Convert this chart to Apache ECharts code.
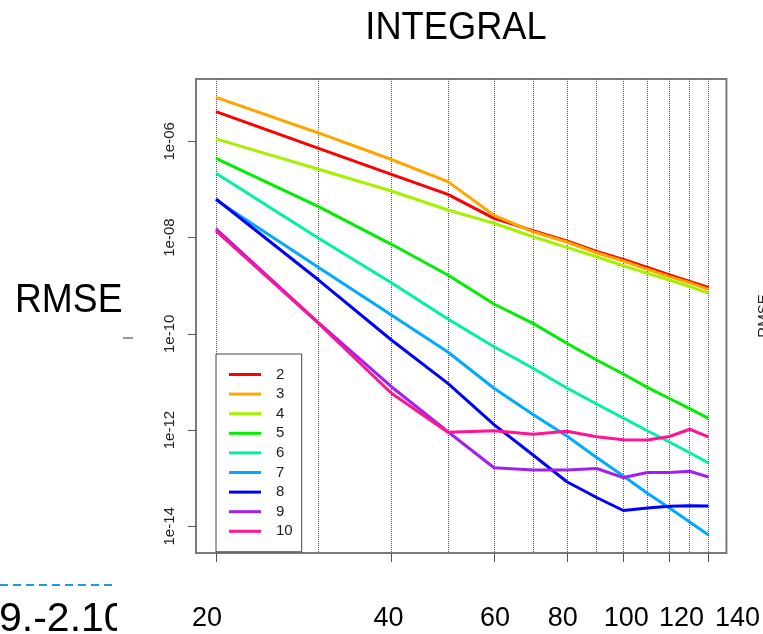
<!DOCTYPE html>
<html><head><meta charset="utf-8">
<script src="https://cdn.jsdelivr.net/npm/echarts@6/dist/echarts.min.js"></script>
<style>html,body{margin:0;padding:0;background:#fff}#c{width:763px;height:634px}</style>
</head><body><div id="c"></div>
<script>
// ---- data ----
const xValues = [20, 30, 40, 50, 60, 70, 80, 90, 100, 110, 120, 130, 140];
const seriesNames = ['2', '3', '4', '5', '6', '7', '8', '9', '10'];
const rmse2  = [4.12e-6, 7.15e-7, 2.06e-7, 7.92e-8, 2.51e-8, 1.39e-8, 8.48e-9, 5.13e-9, 3.50e-9, 2.39e-9, 1.67e-9, 1.22e-9, 9.16e-10];
const rmse3  = [8.20e-6, 1.49e-6, 4.19e-7, 1.45e-7, 2.90e-8, 1.32e-8, 8.09e-9, 4.84e-9, 3.26e-9, 2.19e-9, 1.54e-9, 1.15e-9, 8.41e-10];
const rmse4  = [1.12e-6, 2.62e-7, 9.27e-8, 3.74e-8, 1.98e-8, 1.04e-8, 6.27e-9, 4.00e-9, 2.60e-9, 1.81e-9, 1.31e-9, 9.53e-10, 7.05e-10];
const rmse5  = [4.43e-7, 4.38e-8, 7.24e-9, 1.67e-9, 4.16e-10, 1.65e-10, 6.35e-11, 2.85e-11, 1.46e-11, 7.73e-12, 4.53e-12, 2.78e-12, 1.75e-12];
const rmse6  = [2.16e-7, 9.64e-9, 1.15e-9, 2.03e-10, 5.40e-11, 1.92e-11, 7.48e-12, 3.48e-12, 1.78e-12, 9.68e-13, 5.65e-13, 3.38e-13, 2.07e-13];
const rmse7  = [6.03e-8, 2.39e-9, 2.46e-10, 4.19e-11, 7.38e-12, 2.11e-12, 7.52e-13, 2.69e-13, 1.11e-13, 4.85e-14, 2.40e-14, 1.23e-14, 6.59e-15];
const rmse8  = [6.32e-8, 1.31e-9, 7.43e-11, 9.36e-12, 1.30e-12, 3.03e-13, 8.45e-14, 3.97e-14, 2.13e-14, 2.40e-14, 2.61e-14, 2.67e-14, 2.64e-14];
const rmse9  = [1.51e-8, 1.68e-10, 7.96e-12, 9.25e-13, 1.65e-13, 1.48e-13, 1.48e-13, 1.59e-13, 1.03e-13, 1.31e-13, 1.32e-13, 1.39e-13, 1.06e-13];
const rmse10 = [1.37e-8, 1.64e-10, 5.81e-12, 8.97e-13, 9.68e-13, 8.16e-13, 9.42e-13, 7.28e-13, 6.31e-13, 6.21e-13, 7.35e-13, 1.04e-12, 7.18e-13];
const allSeries = [rmse2, rmse3, rmse4, rmse5, rmse6, rmse7, rmse8, rmse9, rmse10];

const xTickValues = [20, 40, 60, 80, 100, 120, 140];
const xTickLabels = ['20', '40', '60', '80', '100', '120', '140'];
const xGridValues = [20, 30, 40, 50, 60, 70, 80, 90, 100, 110, 120, 130, 140];
const yTickValues = [1e-14, 1e-12, 1e-10, 1e-8, 1e-6];
const yTickLabels = ['1e-14', '1e-12', '1e-10', '1e-08', '1e-06'];
const xRange = [18.48, 150.3];
const yRange = [2.79e-15, 1.97e-5];

// ---- style ----
const colors = ['#ff0000', '#ffa500', '#a6f000', '#00ee00', '#00f0a8', '#00aaff', '#0000ff', '#a020f0', '#ff1493'];
const labelShift = [-9, -3, 1, -4, 3, 12, 29];
const slideFont = '"Liberation Sans", Arial, sans-serif';
const rFont = '"Liberation Sans", Arial, sans-serif';

const rich = {};
labelShift.forEach((s, i) => {
  rich['s' + i] = { fontFamily: slideFont, fontSize: 27, color: '#000',
    padding: s >= 0 ? [0, 0, 0, 2 * s] : [0, -2 * s, 0, 0] };
});
function idxOf(arr, v) {
  let best = 0, bd = Infinity;
  arr.forEach((a, i) => { const d = Math.abs(Math.log10(a) - Math.log10(v)); if (d < bd) { bd = d; best = i; } });
  return best;
}

const chart = echarts.init(document.getElementById('c'), null, { renderer: 'canvas' });
chart.setOption({
  animation: false,
  backgroundColor: '#fff',
  grid: { left: 196, top: 79, width: 531, height: 474, show: true, borderColor: '#7a7a7a', borderWidth: 2, backgroundColor: 'transparent' },
  xAxis: [{
    type: 'log', min: xRange[0], max: xRange[1], position: 'bottom',
    axisLine: { show: false },
    splitLine: { show: false },
    minorTick: { show: false },
    axisTick: { show: true, length: 9, lineStyle: { color: '#555', width: 1 }, customValues: xTickValues },
    axisLabel: { margin: 52, customValues: xTickValues, hideOverlap: false,
      formatter: (v) => { const i = idxOf(xTickValues, v); return '{s' + i + '|' + xTickLabels[i] + '}'; },
      rich: rich }
  }, {
    type: 'log', min: xRange[0], max: xRange[1], position: 'bottom',
    axisLine: { show: false },
    axisLabel: { show: false },
    axisTick: { show: false, customValues: xGridValues },
    splitLine: { show: true, lineStyle: { color: '#555', width: 1, type: 'dotted' } }
  }],
  yAxis: {
    type: 'log', min: yRange[0], max: yRange[1],
    axisLine: { show: false },
    splitLine: { show: false },
    minorTick: { show: false },
    axisTick: { show: true, length: 8, lineStyle: { color: '#555', width: 1 }, customValues: yTickValues },
    axisLabel: { customValues: yTickValues, rotate: 90, margin: 19, fontFamily: rFont, fontSize: 15, color: '#222',
      formatter: (v) => yTickLabels[idxOf(yTickValues, v)] }
  },
  legend: {
    orient: 'vertical', left: 216, top: 354,
    data: seriesNames,
    icon: 'rect',
    itemWidth: 32, itemHeight: 3, itemGap: 4.6,
    padding: [13, 9, 13, 13],
    borderColor: '#444', borderWidth: 1, backgroundColor: '#fff',
    textStyle: { fontFamily: rFont, fontSize: 15, color: '#222', padding: [0, 0, 0, 10] },
    selectedMode: false
  },
  series: seriesNames.map((name, k) => ({
    name: name, type: 'line', symbol: 'none', xAxisIndex: 0,
    color: colors[k],
    itemStyle: { color: colors[k] },
    lineStyle: { width: 3, color: colors[k] },
    data: xValues.map((x, i) => [x, allSeries[k][i]]),
    z: 2 + k * 0.01
  })),
  graphic: [
    { type: 'text', x: 456, y: 28, scaleX: 0.93, z: 10, style: { text: 'INTEGRAL', fontFamily: slideFont, fontSize: 39, fill: '#000', align: 'center', verticalAlign: 'middle' } },
    { type: 'text', x: 15, y: 301, scaleX: 0.93, z: 10, style: { text: 'RMSE', fontFamily: slideFont, fontSize: 40, fill: '#000', align: 'left', verticalAlign: 'middle' } },
    { type: 'text', x: -1, y: 620, scaleX: 1.0, z: 10, style: { text: '9.-2.10', fontFamily: slideFont, fontSize: 41, fill: '#000', align: 'left', verticalAlign: 'middle' } },
    { type: 'rect', z: 11, shape: { x: 117, y: 595, width: 70, height: 39 }, style: { fill: '#fff' } },
    { type: 'line', z: 10, shape: { x1: 0, y1: 585, x2: 113, y2: 585 }, style: { stroke: '#1b9cd8', lineWidth: 2, lineDash: [8, 5] } },
    { type: 'line', z: 10, shape: { x1: 123, y1: 338, x2: 133, y2: 338 }, style: { stroke: '#333', lineWidth: 1 } },
    { type: 'text', x: 764, y: 316, rotation: Math.PI / 2, z: 10, style: { text: 'RMSE', fontFamily: rFont, fontSize: 15, fill: '#222', align: 'center', verticalAlign: 'middle' } }
  ]
});
</script></body></html>
